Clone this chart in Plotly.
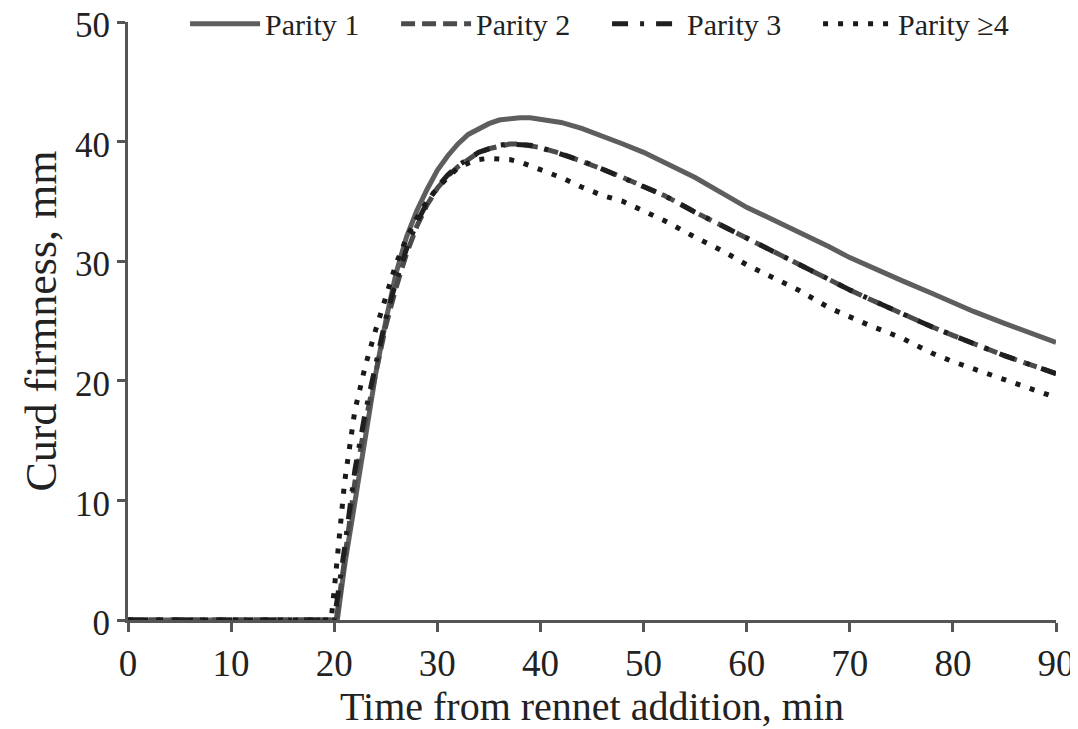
import plotly.graph_objects as go

# ---- data ----
t_p1 = [0, 20.3, 21, 22, 23, 24, 25, 26, 27, 28, 29, 30, 31, 32, 33, 34, 35, 36, 37, 38, 39, 40,
        42, 44, 46, 48, 50, 52, 55, 58, 60, 62, 65, 68, 70, 72, 75, 78, 80, 82, 85, 88, 90]
v_p1 = [0, 0, 4.5, 10.0, 15.5, 20.5, 25.0, 29.0, 32.0, 34.2, 36.0, 37.6, 38.8, 39.8, 40.6, 41.1,
        41.5, 41.8, 41.95, 42.0, 42.0, 41.9, 41.6, 41.1, 40.5, 39.8, 39.1, 38.3, 37.0, 35.5, 34.5,
        33.7, 32.5, 31.2, 30.3, 29.5, 28.4, 27.3, 26.5, 25.8, 24.8, 23.8, 23.2]

t_p2 = [0, 20.2, 21, 22, 23, 24, 25, 26, 27, 28, 29, 30, 31, 32, 33, 34, 35, 36, 37, 38, 39, 40,
        42, 44, 46, 48, 50, 52, 55, 58, 60, 62, 65, 68, 70, 72, 75, 78, 80, 82, 85, 88, 90]
v_p2 = [0, 0, 5.0, 11.5, 16.5, 20.8, 24.6, 27.8, 30.6, 32.9, 34.7, 36.1, 37.1, 37.9, 38.5, 39.1,
        39.4, 39.6, 39.8, 39.8, 39.7, 39.5, 39.0, 38.4, 37.7, 37.0, 36.3, 35.5, 34.1, 32.8, 31.9,
        31.0, 29.7, 28.4, 27.6, 26.8, 25.6, 24.5, 23.8, 23.1, 22.1, 21.2, 20.6]

t_p3 = [0, 20.0, 21, 22, 23, 24, 25, 26, 27, 28, 29, 30, 31, 32, 33, 34, 35, 36, 37, 38, 39, 40,
        42, 44, 46, 48, 50, 52, 55, 58, 60, 62, 65, 68, 70, 72, 75, 78, 80, 82, 85, 88, 90]
v_p3 = [0, 0, 6.0, 12.5, 17.3, 21.5, 25.2, 28.3, 31.0, 33.2, 34.9, 36.2, 37.2, 38.0, 38.6, 39.1,
        39.4, 39.7, 39.8, 39.8, 39.7, 39.5, 39.0, 38.4, 37.7, 37.0, 36.3, 35.5, 34.1, 32.8, 31.9,
        31.0, 29.7, 28.4, 27.6, 26.8, 25.6, 24.5, 23.8, 23.1, 22.1, 21.2, 20.6]

t_p4 = [0, 19.7, 20, 21, 22, 23, 24, 25, 26, 27, 28, 29, 30, 31, 32, 33, 34, 35, 36, 37, 38, 39,
        40, 42, 44, 46, 48, 50, 52, 55, 58, 60, 62, 65, 68, 70, 72, 75, 78, 80, 82, 85, 88, 90]
v_p4 = [0, 0, 2.5, 11.5, 17.5, 21.2, 24.2, 27.0, 29.8, 31.9, 33.6, 35.0, 36.1, 37.0, 37.8, 38.2,
        38.5, 38.6, 38.6, 38.5, 38.3, 38.0, 37.7, 37.0, 36.2, 35.5, 35.0, 34.2, 33.4, 32.0, 30.7,
        29.7, 28.9, 27.6, 26.1, 25.3, 24.6, 23.6, 22.3, 21.6, 21.0, 20.0, 19.2, 18.6]

names = ["Parity 1", "Parity 2", "Parity 3", "Parity ≥4"]
x_ticks = [0, 10, 20, 30, 40, 50, 60, 70, 80, 90]
y_ticks = [0, 10, 20, 30, 40, 50]

series = [(t_p1, v_p1), (t_p2, v_p2), (t_p3, v_p3), (t_p4, v_p4)]
styles = [
    dict(color="#5e5e5e", width=5, dash="solid"),
    dict(color="#4b4b4b", width=5, dash="14px,7px"),
    dict(color="#1f1f1f", width=5, dash="16px,12px,4px,12px"),
    dict(color="#1a1a1a", width=5, dash="5px,10px"),
]

fig = go.Figure()
for (tx, vy), nm, st in zip(series, names, styles):
    fig.add_trace(go.Scatter(x=tx, y=vy, mode="lines", name=nm, line=dict(shape="linear", **st)))

font_family = "Liberation Serif"
axis_color = "#555555"
text_color = "#222222"

# the page body adds an 8px offset, so the figure is 8px smaller and margins compensate
fig.update_layout(
    width=1070, height=721,
    margin=dict(l=120, r=22, t=14, b=109, autoexpand=False),
    paper_bgcolor="white", plot_bgcolor="white",
    font=dict(family=font_family, color=text_color),
    showlegend=True,
    legend=dict(
        orientation="h", x=0.0615, xanchor="left", y=0.997, yanchor="middle",
        font=dict(family=font_family, size=30, color=text_color),
        itemwidth=70, entrywidth=126, entrywidthmode="pixels",
        bgcolor="rgba(255,255,255,0)",
    ),
    xaxis=dict(
        range=[0, 90], tickvals=x_ticks, ticktext=[str(v) for v in x_ticks],
        showgrid=False, zeroline=False, showline=True, linecolor=axis_color, linewidth=3,
        ticks="outside", ticklen=9, tickwidth=2.5, tickcolor=axis_color,
        ticklabeloverflow="allow",
        tickfont=dict(family=font_family, size=37, color=text_color),
        title=dict(text="Time from rennet addition, min", font=dict(family=font_family, size=40, color=text_color), standoff=19),
    ),
    yaxis=dict(
        range=[0, 50], tickvals=y_ticks, ticktext=[str(v) for v in y_ticks],
        showgrid=False, zeroline=False, showline=True, linecolor=axis_color, linewidth=3,
        ticks="outside", ticklen=8, tickwidth=2.5, tickcolor=axis_color,
        ticklabeloverflow="allow", ticklabelshift=3,
        tickfont=dict(family=font_family, size=35, color=text_color),
        title=dict(text="Curd firmness, mm", font=dict(family=font_family, size=44, color=text_color), standoff=5),
    ),
)

fig.write_html("out.html")
